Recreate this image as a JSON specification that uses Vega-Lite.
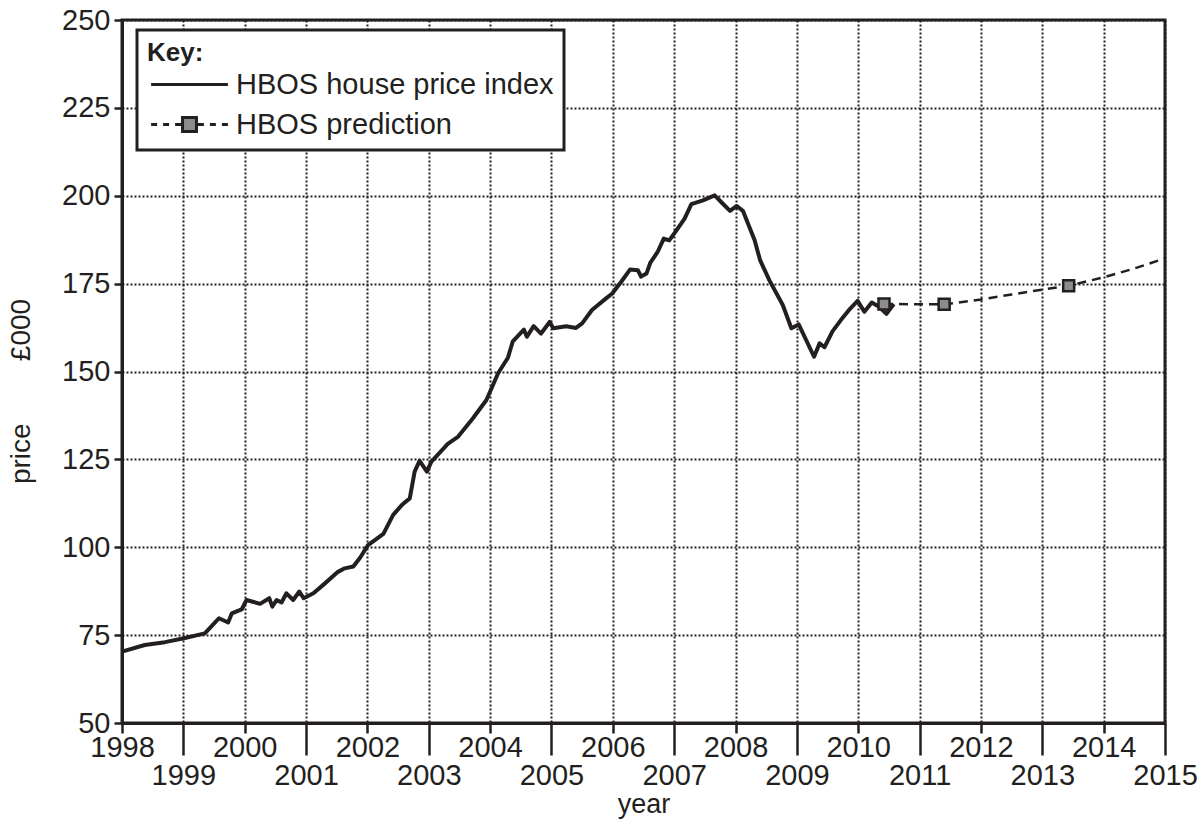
{
  "$schema": "https://vega.github.io/schema/vega-lite/v6.json",
  "width": 1043,
  "height": 703,
  "autosize": {"type": "none"},
  "padding": {"left": 122, "top": 20, "right": 35, "bottom": 100},
  "background": "white",
  "config": {
    "font": "Liberation Sans",
    "view": {"stroke": "#231f20", "strokeWidth": 3},
    "axis": {
      "domainColor": "#231f20", "domainWidth": 3,
      "tickColor": "#231f20", "tickWidth": 2.5,
      "labelColor": "#231f20", "labelFont": "Liberation Sans", "labelFontSize": 29,
      "titleFont": "Liberation Sans", "titleFontSize": 27, "titleFontWeight": "normal", "titleColor": "#231f20",
      "grid": true, "gridColor": "#231f20", "gridDash": [2, 2], "gridWidth": 2, "gridOpacity": 1
    },
    "legend": {"strokeWidth": 3}
  },
  "datasets": {
    "hpi": [
      {"year": 1998.00, "price": 70.3}, {"year": 1998.37, "price": 72.2}, {"year": 1998.70, "price": 73.0},
      {"year": 1999.01, "price": 74.1}, {"year": 1999.35, "price": 75.5}, {"year": 1999.51, "price": 78.5},
      {"year": 1999.58, "price": 79.8}, {"year": 1999.73, "price": 78.6}, {"year": 1999.79, "price": 81.2},
      {"year": 1999.95, "price": 82.3}, {"year": 2000.03, "price": 85.0}, {"year": 2000.25, "price": 83.9},
      {"year": 2000.40, "price": 85.5}, {"year": 2000.45, "price": 83.1}, {"year": 2000.52, "price": 85.0},
      {"year": 2000.60, "price": 84.3}, {"year": 2000.68, "price": 86.9}, {"year": 2000.79, "price": 85.0},
      {"year": 2000.89, "price": 87.4}, {"year": 2000.96, "price": 85.5}, {"year": 2001.12, "price": 86.9},
      {"year": 2001.28, "price": 89.3}, {"year": 2001.52, "price": 93.0}, {"year": 2001.63, "price": 94.0},
      {"year": 2001.77, "price": 94.5}, {"year": 2001.88, "price": 97.0}, {"year": 2002.01, "price": 100.6},
      {"year": 2002.26, "price": 103.8}, {"year": 2002.42, "price": 109.2}, {"year": 2002.56, "price": 112.0},
      {"year": 2002.69, "price": 113.9}, {"year": 2002.77, "price": 121.5}, {"year": 2002.85, "price": 124.6},
      {"year": 2002.97, "price": 121.5}, {"year": 2003.04, "price": 124.3}, {"year": 2003.31, "price": 129.4},
      {"year": 2003.48, "price": 131.5}, {"year": 2003.72, "price": 136.7}, {"year": 2003.94, "price": 141.9},
      {"year": 2004.13, "price": 149.5}, {"year": 2004.29, "price": 153.9}, {"year": 2004.37, "price": 158.6},
      {"year": 2004.55, "price": 161.9}, {"year": 2004.60, "price": 159.9}, {"year": 2004.71, "price": 162.9},
      {"year": 2004.83, "price": 160.8}, {"year": 2004.97, "price": 164.1}, {"year": 2005.03, "price": 162.3},
      {"year": 2005.24, "price": 162.9}, {"year": 2005.40, "price": 162.4}, {"year": 2005.50, "price": 163.7},
      {"year": 2005.66, "price": 167.5}, {"year": 2005.89, "price": 170.8}, {"year": 2005.99, "price": 172.2},
      {"year": 2006.14, "price": 175.6}, {"year": 2006.28, "price": 179.0}, {"year": 2006.41, "price": 178.8},
      {"year": 2006.46, "price": 177.0}, {"year": 2006.55, "price": 177.9}, {"year": 2006.61, "price": 180.9},
      {"year": 2006.73, "price": 184.0}, {"year": 2006.83, "price": 187.8}, {"year": 2006.92, "price": 187.3},
      {"year": 2007.04, "price": 190.2}, {"year": 2007.17, "price": 193.5}, {"year": 2007.28, "price": 197.6},
      {"year": 2007.47, "price": 198.7}, {"year": 2007.66, "price": 200.1}, {"year": 2007.79, "price": 197.8},
      {"year": 2007.91, "price": 195.7}, {"year": 2008.02, "price": 197.1}, {"year": 2008.12, "price": 195.7},
      {"year": 2008.31, "price": 187.4}, {"year": 2008.40, "price": 181.7}, {"year": 2008.55, "price": 176.0},
      {"year": 2008.77, "price": 168.9}, {"year": 2008.91, "price": 162.3}, {"year": 2009.03, "price": 163.4},
      {"year": 2009.28, "price": 154.2}, {"year": 2009.37, "price": 158.0}, {"year": 2009.45, "price": 156.9},
      {"year": 2009.58, "price": 161.4}, {"year": 2009.72, "price": 164.7}, {"year": 2009.85, "price": 167.5},
      {"year": 2009.99, "price": 170.1}, {"year": 2010.10, "price": 167.0}, {"year": 2010.22, "price": 169.6},
      {"year": 2010.34, "price": 168.4}, {"year": 2010.46, "price": 166.4}, {"year": 2010.58, "price": 169.2}
    ],
    "pred": [
      {"year": 2010.42, "price": 169.2}, {"year": 2011.40, "price": 169.1}, {"year": 2012.00, "price": 170.5},
      {"year": 2012.50, "price": 171.9}, {"year": 2013.00, "price": 173.3}, {"year": 2013.43, "price": 174.4},
      {"year": 2014.00, "price": 176.8}, {"year": 2014.50, "price": 179.3}, {"year": 2015.00, "price": 182.2}
    ],
    "sq": [
      {"year": 2010.42, "price": 169.2, "series": "HBOS prediction"},
      {"year": 2011.40, "price": 169.1, "series": "HBOS prediction"},
      {"year": 2013.43, "price": 174.4, "series": "HBOS prediction"}
    ]
  },
  "encoding": {
    "x": {
      "field": "year", "type": "quantitative",
      "scale": {"domain": [1998, 2015], "nice": false, "zero": false},
      "axis": {
        "title": "year",
        "values": [1998, 1999, 2000, 2001, 2002, 2003, 2004, 2005, 2006, 2007, 2008, 2009, 2010, 2011, 2012, 2013, 2014, 2015],
        "format": "d",
        "labelFlush": false, "labelOverlap": false, "labelBound": false,
        "tickSize": {"condition": {"test": "datum.value % 2 == 1", "value": 32}, "value": 10},
        "labelPadding": {"condition": {"test": "datum.value % 2 == 1", "value": 6}, "value": 0},
        "titlePadding": 1
      }
    },
    "y": {
      "field": "price", "type": "quantitative",
      "scale": {"domain": [50, 250], "nice": false, "zero": false},
      "axis": {
        "title": "price\u00a0\u00a0\u00a0\u00a0\u00a0\u00a0\u00a0\u00a0£000",
        "titleFontSize": 28,
        "titleY": 371,
        "values": [50, 75, 100, 125, 150, 175, 200, 225, 250],
        "tickSize": 8, "labelPadding": 4, "titlePadding": 26
      }
    }
  },
  "layer": [
    {"data": {"name": "hpi"}, "mark": {"type": "line", "color": "#231f20", "strokeWidth": 4, "strokeJoin": "round"}},
    {"data": {"name": "pred"}, "mark": {"type": "line", "color": "#231f20", "strokeWidth": 2.5, "strokeDash": [9, 6]}},
    {"data": {"name": "sq"}, "mark": {"type": "point", "shape": "square", "size": 121, "filled": true, "fill": "#8c8c8c", "stroke": "#231f20", "strokeWidth": 2.5, "opacity": 1}},
    {
      "data": {"name": "sq"},
      "transform": [{"filter": "false"}],
      "mark": {"type": "point", "filled": true, "fill": "#8c8c8c", "stroke": "#231f20", "strokeWidth": 3, "opacity": 1},
      "encoding": {
        "shape": {
          "field": "series", "type": "nominal",
          "scale": {
            "domain": ["HBOS house price index", "HBOS prediction"],
            "range": ["M-3.2,0H3.2", "M-3.2,0H-2.7M-2.2,0H-1.7M-1.2,0H-0.58M0.58,0H1.2M1.7,0H2.2M2.7,0H3.2M-0.58,-0.58H0.58V0.58H-0.58Z"]
          },
          "legend": {
            "title": "\u00a0\u2009Key:", "orient": "none", "legendX": 15, "legendY": 10,
            "titleFont": "Liberation Sans", "titleFontSize": 26, "titleFontWeight": "bold", "titleColor": "#231f20", "titlePadding": 4,
            "labelFont": "Liberation Sans", "labelFontSize": 29, "labelColor": "#231f20", "labelOffset": 32, "labelLimit": 0,
            "symbolSize": 576, "symbolOffset": 28, "symbolStrokeWidth": 3, "symbolOpacity": 1,
            "padding": 10, "rowPadding": 10, "strokeColor": "#231f20", "fillColor": "white"
          }
        }
      }
    }
  ]
}
